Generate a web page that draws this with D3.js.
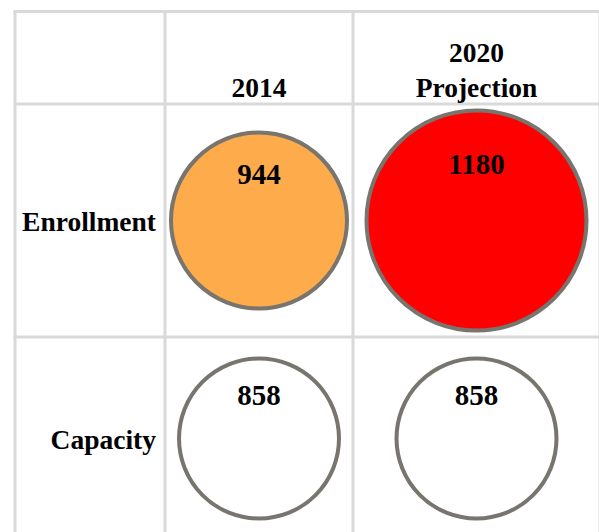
<!DOCTYPE html>
<html>
<head>
<meta charset="utf-8">
<script src="https://cdn.jsdelivr.net/npm/d3@7"></script>
<style>
  body { margin: 0; background: #fff; }
  text { font-family: "Liberation Serif", "Times New Roman", serif; font-weight: bold; fill: #000; }
</style>
</head>
<body>
<div id="chart"></div>
<script>
const columns = ['2014', '2020 Projection'];
const rows = ['Enrollment', 'Capacity'];
const enrollment = [944, 1180];
const capacity = [858, 858];
const fills = { Enrollment: ['#fdab4b', '#ff0000'], Capacity: ['#ffffff', '#ffffff'] };

const width = 599;
const height = 532;

// table grid (left label column, then one column per year)
const colEdges = [15, 165, 353, 600];
const rowEdges = [11.5, 104, 337, 540];

const cells = [];
rows.forEach((r, i) => {
  const vals = i === 0 ? enrollment : capacity;
  columns.forEach((c, j) => {
    cells.push({ row: r, col: c, value: vals[j], fill: fills[r][j] });
  });
});

const svg = d3.select('#chart')
  .append('svg')
  .attr('width', width)
  .attr('height', height);

const xCenter = d3.scaleOrdinal()
  .domain(columns)
  .range(columns.map((c, j) => (colEdges[j + 1] + colEdges[j + 2]) / 2));

const yCenter = d3.scaleOrdinal()
  .domain(rows)
  .range(rows.map((r, i) => (rowEdges[i + 1] + rowEdges[i + 2]) / 2));

const rScale = d3.scaleLinear()
  .domain([0, d3.max(cells, d => d.value)])
  .range([0, 110]);

// grid lines
svg.selectAll('line.h')
  .data(rowEdges)
  .enter()
  .append('line')
  .attr('x1', colEdges[0] - 1.5)
  .attr('x2', width + 2)
  .attr('y1', d => d)
  .attr('y2', d => d)
  .style('stroke', '#d9d9d9')
  .style('stroke-width', 3);

svg.selectAll('line.v')
  .data(colEdges)
  .enter()
  .append('line')
  .attr('x1', d => d)
  .attr('x2', d => d)
  .attr('y1', rowEdges[0] - 1.5)
  .attr('y2', height + 10)
  .style('stroke', '#d9d9d9')
  .style('stroke-width', 3);

// column headers
const header = svg.selectAll('text.header')
  .data(columns)
  .enter()
  .append('text')
  .attr('text-anchor', 'middle')
  .style('font-size', '27.5px');

header.each(function (d) {
  const words = d.split(' ');
  const t = d3.select(this);
  words.forEach((w, k) => {
    t.append('tspan')
      .attr('x', xCenter(d))
      .attr('y', 96.5 - (words.length - 1 - k) * 35)
      .text(w);
  });
});

// row labels
svg.selectAll('text.rowlabel')
  .data(rows)
  .enter()
  .append('text')
  .attr('text-anchor', 'end')
  .attr('x', colEdges[1] - 9)
  .attr('y', d => yCenter(d) + 10)
  .text(d => d)
  .style('font-size', '27.5px');

// bubbles
svg.selectAll('circle')
  .data(cells)
  .enter()
  .append('circle')
  .attr('cx', d => xCenter(d.col))
  .attr('cy', d => yCenter(d.row))
  .attr('r', d => rScale(d.value))
  .style('fill', d => d.fill)
  .style('stroke', '#78746e')
  .style('stroke-width', 4);

svg.selectAll('text.value')
  .data(cells)
  .enter()
  .append('text')
  .attr('text-anchor', 'middle')
  .attr('x', d => xCenter(d.col))
  .attr('y', d => yCenter(d.row) - rScale(d.value) * 0.42)
  .text(d => d.value)
  .style('font-size', '29px');
</script>
</body>
</html>
